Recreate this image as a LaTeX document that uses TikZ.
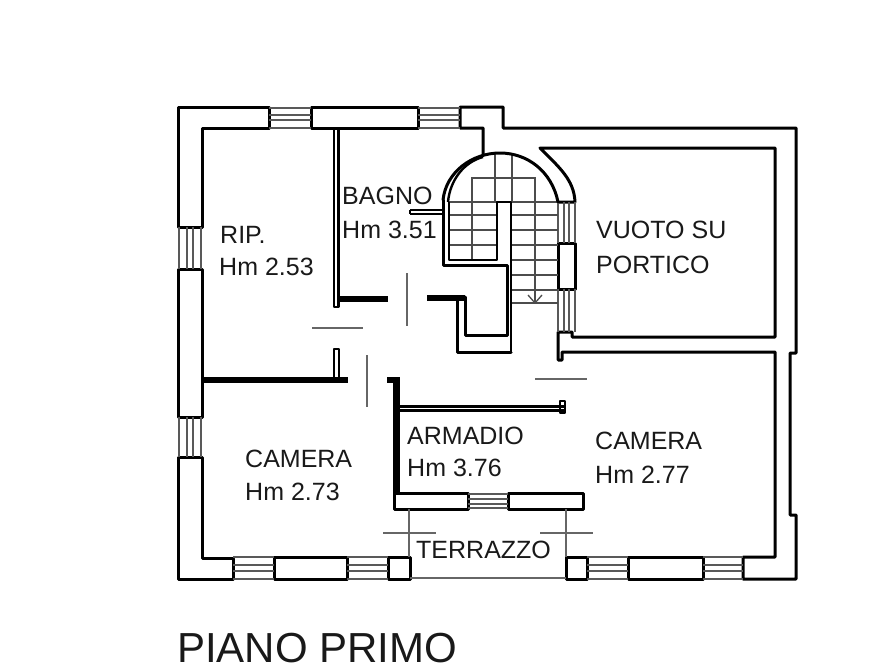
\documentclass[tikz,border=0pt]{standalone}
\usepackage{fontspec}
\setmainfont{Liberation Sans}
\tikzset{
  wall/.style={line width=3pt,line cap=round,line join=round},
  thickwall/.style={line width=6pt},
  twin/.style={line width=2.4pt,line join=round},
  pane/.style={line width=1.3pt,black!65},
  stair/.style={line width=1.3pt,black!70},
  swing/.style={line width=1.3pt,black!60},
  room/.style={anchor=base west,inner sep=0pt,font=\fontsize{25}{25}\selectfont,black!90}
}

\begin{document}
\begin{tikzpicture}[x=1pt,y=-1pt]
  \useasboundingbox (0,0) rectangle (893,670);

  % outer walls
  \draw[wall] (178,107) -- (269,107) -- (269,128) -- (202,128) -- (202,227) -- (178,227) -- cycle;
  \draw[wall] (311,107) rectangle (418,128);
  \draw[wall] (483,155) -- (483,128) -- (460,128) -- (460,107) -- (503,107) -- (503,128) -- (796,128)
    -- (796,353) -- (790,353) -- (790,515) -- (796,515) -- (796,579) -- (743,579) -- (743,557) -- (775,557)
    -- (775,352) -- (562,352) -- (562,360) -- (558,360) -- (558,332) -- (572,332) -- (572,337)
    -- (775,337) -- (775,148) -- (540,148) .. controls (560,168) and (574,180) .. (575,202) -- (558,202);
  \draw[wall] (178,269) -- (202,269) -- (202,417) -- (178,417) -- cycle;
  \draw[wall] (178,457) -- (202,457) -- (202,558) -- (233,558) -- (233,579) -- (178,579) -- cycle;
  \draw[wall] (274,557) rectangle (347,579);
  \draw[wall] (388,557) rectangle (410,579);
  \draw[wall] (566,557) rectangle (587,579);
  \draw[wall] (628,557) rectangle (703,579);
  \draw[wall] (394,493) rectangle (468,509);
  \draw[wall] (508,493) rectangle (583,509);
  \draw[wall] (558,243) rectangle (575,289);

  % windows
  \draw[pane] (269,108) -- (311,108);
  \draw[pane] (269,115) -- (311,115);
  \draw[pane] (269,120) -- (311,120);
  \draw[pane] (269,128) -- (311,128);
  \draw[pane] (418,108) -- (460,108);
  \draw[pane] (418,115) -- (460,115);
  \draw[pane] (418,120) -- (460,120);
  \draw[pane] (418,128) -- (460,128);
  \draw[pane] (179,227) -- (179,269);
  \draw[pane] (187,227) -- (187,269);
  \draw[pane] (193,227) -- (193,269);
  \draw[pane] (201,227) -- (201,269);
  \draw[pane] (179,417) -- (179,457);
  \draw[pane] (187,417) -- (187,457);
  \draw[pane] (193,417) -- (193,457);
  \draw[pane] (201,417) -- (201,457);
  \draw[pane] (233,557) -- (274,557);
  \draw[pane] (233,565) -- (274,565);
  \draw[pane] (233,571) -- (274,571);
  \draw[pane] (233,579) -- (274,579);
  \draw[pane] (347,557) -- (388,557);
  \draw[pane] (347,565) -- (388,565);
  \draw[pane] (347,571) -- (388,571);
  \draw[pane] (347,579) -- (388,579);
  \draw[pane] (587,557) -- (628,557);
  \draw[pane] (587,565) -- (628,565);
  \draw[pane] (587,571) -- (628,571);
  \draw[pane] (587,579) -- (628,579);
  \draw[pane] (703,557) -- (743,557);
  \draw[pane] (703,565) -- (743,565);
  \draw[pane] (703,571) -- (743,571);
  \draw[pane] (703,579) -- (743,579);
  \draw[pane] (468,494) -- (508,494);
  \draw[pane] (468,499) -- (508,499);
  \draw[pane] (468,504) -- (508,504);
  \draw[pane] (468,508) -- (508,508);
  \draw[pane] (558,202) -- (558,243);
  \draw[pane] (564,202) -- (564,243);
  \draw[pane] (569,202) -- (569,243);
  \draw[pane] (575,202) -- (575,243);
  \draw[pane] (558,289) -- (558,332);
  \draw[pane] (564,289) -- (564,332);
  \draw[pane] (569,289) -- (569,332);
  \draw[pane] (575,289) -- (575,332);

  % stairs
  \draw[stair] (449,202) -- (497,202);
  \draw[stair] (449,215) -- (497,215);
  \draw[stair] (449,230) -- (497,230);
  \draw[stair] (449,245) -- (497,245);
  \draw[stair] (511,202) -- (558,202);
  \draw[stair] (511,215) -- (558,215);
  \draw[stair] (511,230) -- (558,230);
  \draw[stair] (511,245) -- (558,245);
  \draw[stair] (511,260) -- (558,260);
  \draw[stair] (511,275) -- (558,275);
  \draw[stair] (511,290) -- (558,290);
  \draw[stair] (511,303) -- (558,303);
  \draw[stair] (495,153) -- (495,202);
  \draw[stair] (512,153) -- (512,202);
  \draw[stair] (472,260) -- (472,178) -- (535,178) -- (535,303);
  \draw[stair] (528,295) -- (535,303) -- (542,295);

  % stair well and inner walls
  \draw[wall] (558,202) .. controls (552,172) and (528,153) .. (500,153) .. controls (472,153) and (446,172) .. (443,200);
  \draw[twin] (483,157) .. controls (464,162) and (450,180) .. (448,202);
  \draw[wall] (443,200) -- (443,265) -- (507,265) -- (507,335) -- (465,335) -- (465,297);
  \draw[twin] (449,202) -- (449,260) -- (497,260) -- (497,202) -- (511,202) -- (511,352);
  \draw[wall] (511,352) -- (457,352) -- (457,300);
  \draw[thickwall] (427,298) -- (465,298);
  \draw[twin] (410,210) -- (443,210);
  \draw[twin] (410,214) -- (443,214);
  \draw[twin] (410,210) -- (410,214);

  % partitions
  \draw[twin] (334,128) -- (334,307) -- (338.5,307) -- (338.5,128);
  \draw[thickwall] (339,299) -- (388,299);
  \draw[twin] (334,378) -- (334,349) -- (339,349) -- (339,378);
  \draw[thickwall] (202,380) -- (348,380);
  \draw[thickwall] (387,380) -- (400,380);
  \draw[line width=6.5pt] (396.5,378) -- (396.5,493);
  \draw[twin] (397,406.5) -- (565,406.5);
  \draw[twin] (397,410.5) -- (565,410.5);
  \draw[twin] (560,401) -- (565,401) -- (565,413) -- (560,413) -- cycle;

  % door swings and terrace
  \draw[swing] (407,273) -- (407,326);
  \draw[swing] (312,328) -- (363,328);
  \draw[swing] (367,355) -- (367,407);
  \draw[swing] (535,379) -- (587,379);
  \draw[swing] (409,509) -- (409,557);
  \draw[swing] (566,509) -- (566,557);
  \draw[swing] (383,533) -- (436,533);
  \draw[swing] (540,533) -- (593,533);
  \draw[swing] (410,578) -- (566,578);

  % labels
  \node[room] (rip) at (220,243) {RIP.};
  \node[room] (riph) at (219,275) {Hm 2.53};
  \node[room] (bagno) at (342,204) {BAGNO};
  \node[room] (bagnoh) at (342,238) {Hm 3.51};
  \node[room] (vuoto) at (596,238) {VUOTO SU};
  \node[room] (portico) at (596,273) {PORTICO};
  \node[room] (camerab) at (245,467) {CAMERA};
  \node[room] (camerabh) at (245,500) {Hm 2.73};
  \node[room] (armadio) at (407,444) {ARMADIO};
  \node[room] (armadioh) at (407,476) {Hm 3.76};
  \node[room] (camerac) at (595,449) {CAMERA};
  \node[room] (camerach) at (595,483) {Hm 2.77};
  \node[room] (terrazzo) at (416,558) {TERRAZZO};
  \node[room,font=\fontsize{42}{42}\selectfont] (piano) at (177,662) {PIANO PRIMO};
\end{tikzpicture}
\end{document}
